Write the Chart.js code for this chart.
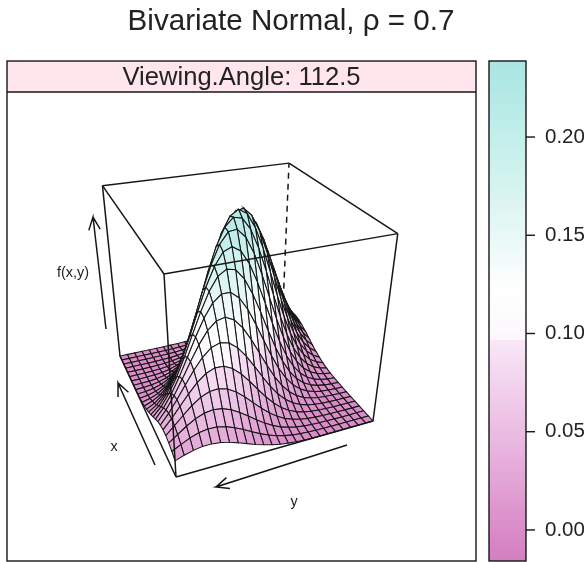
<!DOCTYPE html>
<html>
<head>
<meta charset="utf-8">
<title>Bivariate Normal</title>
<script src="https://cdn.jsdelivr.net/npm/chart.js@4"></script>
<style>
  html, body { margin: 0; padding: 0; background: #fff; }
  #wrap { position: relative; width: 588px; height: 562px; overflow: hidden; }
  canvas { position: absolute; top: 0; display: block; }
  #surface { left: 0; }
  #key { left: 480px; }
</style>
</head>
<body>
<div id="wrap">
  <canvas id="surface" width="588" height="562"></canvas>
  <canvas id="key" width="108" height="562"></canvas>
</div>
<script>
const titleText = 'Bivariate Normal, ρ = 0.7';
const stripText = 'Viewing.Angle: 112.5';
const keyTicks = [0, 0.05, 0.10, 0.15, 0.20];

// ---------- surface heights, in units of 0.0001 ----------
const zGrid = [
  [212,251,281,299,300,286,258,220,178,136,99,68,44,27,16,9,5,2,1,0,0,0,0,0,0],
  [251,308,360,397,414,410,384,340,286,227,171,122,83,53,32,18,10,5,2,1,0,0,0,0,0],
  [281,360,435,498,541,556,541,498,435,360,281,208,146,97,61,36,21,11,6,3,1,0,0,0,0],
  [299,397,498,593,669,714,722,691,626,538,437,336,245,169,111,69,40,22,12,6,3,1,0,0,0],
  [300,414,541,669,783,868,912,907,854,762,644,515,390,280,189,122,74,43,24,12,6,3,1,0,0],
  [286,410,556,714,868,1000,1092,1128,1104,1022,897,746,587,437,308,206,130,78,44,24,12,6,3,1,0],
  [258,384,541,722,912,1092,1237,1327,1350,1299,1184,1022,836,647,474,330,216,135,80,44,24,12,6,2,1],
  [220,340,498,691,907,1128,1327,1482,1565,1565,1482,1327,1128,907,691,498,340,220,135,78,43,22,11,5,2],
  [178,286,435,626,854,1104,1350,1565,1716,1778,1754,1634,1441,1204,952,714,506,340,216,130,74,40,21,10,5],
  [136,227,360,538,762,1022,1299,1565,1778,1923,1965,1903,1744,1514,1244,968,714,498,330,206,122,69,36,18,9],
  [99,171,281,437,644,897,1184,1482,1754,1965,2087,2099,1998,1802,1538,1244,952,691,474,308,189,111,61,32,16],
  [68,122,208,336,515,746,1022,1327,1634,1903,2099,2192,2168,2031,1802,1514,1204,907,647,437,280,169,97,53,27],
  [44,83,146,245,390,587,836,1128,1441,1744,1998,2168,2228,2168,1998,1744,1441,1128,836,587,390,245,146,83,44],
  [27,53,97,169,280,437,647,907,1204,1514,1802,2031,2168,2192,2099,1903,1634,1327,1022,746,515,336,208,122,68],
  [16,32,61,111,189,308,474,691,952,1244,1538,1802,1998,2099,2087,1965,1754,1482,1184,897,644,437,281,171,99],
  [9,18,36,69,122,206,330,498,714,968,1244,1514,1744,1903,1965,1923,1778,1565,1299,1022,762,538,360,227,136],
  [5,10,21,40,74,130,216,340,506,714,952,1204,1441,1634,1754,1778,1716,1565,1350,1104,854,626,435,286,178],
  [2,5,11,22,43,78,135,220,340,498,691,907,1128,1327,1482,1565,1565,1482,1327,1128,907,691,498,340,220],
  [1,2,6,12,24,44,80,135,216,330,474,647,836,1022,1184,1299,1350,1327,1237,1092,912,722,541,384,258],
  [0,1,3,6,12,24,44,78,130,206,308,437,587,746,897,1022,1104,1128,1092,1000,868,714,556,410,286],
  [0,0,1,3,6,12,24,43,74,122,189,280,390,515,644,762,854,907,912,868,783,669,541,414,300],
  [0,0,0,1,3,6,12,22,40,69,111,169,245,336,437,538,626,691,722,714,669,593,498,397,299],
  [0,0,0,0,1,3,6,11,21,36,61,97,146,208,281,360,435,498,541,556,541,498,435,360,281],
  [0,0,0,0,0,1,2,5,10,18,32,53,83,122,171,227,286,340,384,410,414,397,360,308,251],
  [0,0,0,0,0,0,1,2,5,9,16,27,44,68,99,136,178,220,258,286,300,299,281,251,212]
];
const zTop = 2245;

// ---------- colores ----------
const palette = [
  [-0.0158, [212, 126, 192]],
  [0.00, [218, 140, 200]],
  [0.05, [235, 189, 227]],
  [0.095, [248, 230, 246]],
  [0.0965, [252, 247, 252]],
  [0.12, [255, 255, 255]],
  [0.15, [232, 248, 246]],
  [0.20, [194, 238, 234]],
  [0.2387, [169, 229, 225]]
];

function colorFor(z) {
  for (let i = 1; i < palette.length; i++) {
    if (z <= palette[i][0]) {
      const [z0, c0] = palette[i - 1];
      const [z1, c1] = palette[i];
      const t = Math.max(0, (z - z0) / (z1 - z0));
      const c = c0.map((v, k) => Math.round(v + (c1[k] - v) * t));
      return `rgb(${c[0]},${c[1]},${c[2]})`;
    }
  }
  const last = palette[palette.length - 1][1];
  return `rgb(${last[0]},${last[1]},${last[2]})`;
}

// ---------- perspective of the box ----------
const corner = { o: [176, 477], u: [373, 421], v: [120, 356], w: [164, 274] };
const weight = { u: 1.12, v: 1.28, w: 0.83 };

function project(u, v, w) {
  const d = 1 + (weight.u - 1) * u + (weight.v - 1) * v + (weight.w - 1) * w;
  const at = k => (corner.o[k]
    + u * (weight.u * corner.u[k] - corner.o[k])
    + v * (weight.v * corner.v[k] - corner.o[k])
    + w * (weight.w * corner.w[k] - corner.o[k])) / d;
  return { x: at(0), y: at(1) };
}

const ink = '#161616';

function edge(a, b, dash) {
  return {
    data: [project(...a), project(...b)],
    showLine: true,
    borderColor: ink,
    borderWidth: 1.5,
    borderDash: dash || [],
    pointRadius: 0,
    fill: false
  };
}

// ---------- arrows and their labels ----------
const arrowTails = [[155, 465], [347, 445], [106, 329]];
const arrowHeads = [[118, 383], [216, 487], [93, 217]];
const arrowLabels = ['x', 'y', 'f(x,y)'];
const arrowLabelSpots = [[114, 447], [294, 502], [73, 273]];

function arrow(tail, head) {
  const ang = Math.atan2(tail[1] - head[1], tail[0] - head[0]);
  const wing = s => ({
    x: head[0] + 14 * Math.cos(ang + s * 0.42),
    y: head[1] + 14 * Math.sin(ang + s * 0.42)
  });
  const h = { x: head[0], y: head[1] };
  return {
    data: [{ x: tail[0], y: tail[1] }, h, wing(1), h, wing(-1)],
    showLine: true,
    borderColor: ink,
    borderWidth: 1.5,
    pointRadius: 0,
    fill: false
  };
}

// the first dataset is painted last, so go from the near corner to the far one
const datasets = [];

datasets.push(edge([0, 0, 1], [1, 0, 1]));
datasets.push(edge([0, 0, 1], [0, 1, 1]));
datasets.push(edge([0, 0, 0], [0, 0, 1]));
datasets.push(edge([1, 0, 0], [1, 0, 1]));
datasets.push(edge([0, 0, 0], [1, 0, 0]));
datasets.push(edge([0, 0, 0], [0, 1, 0]));
arrowTails.forEach((t, i) => datasets.push(arrow(t, arrowHeads[i])));

const cells = zGrid.length - 1;
for (let i = 0; i < cells; i++) {
  for (let j = 0; j < cells; j++) {
    const corners = [[i, j], [i, j + 1], [i + 1, j + 1], [i + 1, j]];
    const pts = corners.map(([r, c]) => project(c / cells, r / cells, zGrid[r][c] / zTop));
    const mean = corners.reduce((s, [r, c]) => s + zGrid[r][c], 0) / 4 / 10000;
    datasets.push({
      data: [...pts, pts[0]],
      showLine: true,
      fill: 'shape',
      backgroundColor: colorFor(mean),
      borderColor: ink,
      borderWidth: 1.05,
      pointRadius: 0
    });
  }
}

datasets.push(edge([0, 1, 0], [0, 1, 1]));
datasets.push(edge([0, 1, 1], [1, 1, 1]));
datasets.push(edge([1, 0, 1], [1, 1, 1]));
datasets.push(edge([1, 1, 0], [1, 1, 1], [6, 5]));

// panel frame, strip and the small labels, placed through the scales
const panel = { left: 7, right: 476, top: 61, stripBottom: 92, bottom: 561 };

const panelPlugin = {
  id: 'panel',
  beforeDatasetsDraw(chart) {
    const { ctx, scales: { x, y } } = chart;
    const l = x.getPixelForValue(panel.left);
    const r = x.getPixelForValue(panel.right);
    const t = y.getPixelForValue(panel.top);
    const s = y.getPixelForValue(panel.stripBottom);
    ctx.save();
    ctx.fillStyle = '#ffe6ec';
    ctx.fillRect(l, t, r - l, s - t);
    ctx.restore();
  },
  afterDraw(chart) {
    const { ctx, scales: { x, y } } = chart;
    const l = x.getPixelForValue(panel.left);
    const r = x.getPixelForValue(panel.right);
    const t = y.getPixelForValue(panel.top);
    const s = y.getPixelForValue(panel.stripBottom);
    const b = y.getPixelForValue(panel.bottom);
    ctx.save();
    ctx.strokeStyle = ink;
    ctx.lineWidth = 1.4;
    ctx.strokeRect(l, t, r - l, b - t);
    ctx.beginPath();
    ctx.moveTo(l, s);
    ctx.lineTo(r, s);
    ctx.stroke();
    ctx.fillStyle = '#222';
    ctx.textAlign = 'center';
    ctx.font = '25.6px "Liberation Sans"';
    ctx.textBaseline = 'alphabetic';
    ctx.fillText(stripText, (l + r) / 2, y.getPixelForValue(84.5));
    ctx.font = '14.4px "Liberation Sans"';
    ctx.textBaseline = 'middle';
    arrowLabels.forEach((txt, i) => {
      const [px, py] = arrowLabelSpots[i];
      ctx.fillText(txt, x.getPixelForValue(px), y.getPixelForValue(py));
    });
    ctx.restore();
  }
};

new Chart(document.getElementById('surface'), {
  type: 'scatter',
  data: { datasets },
  plugins: [panelPlugin],
  options: {
    responsive: false,
    animation: false,
    events: [],
    layout: { padding: { left: 0, right: 6, top: 0, bottom: 0 } },
    plugins: {
      legend: { display: false },
      tooltip: { enabled: false },
      title: {
        display: true,
        text: titleText,
        color: '#222',
        font: { family: '"Liberation Sans"', size: 29.6, weight: 'normal', lineHeight: 1.2 },
        padding: { top: 4, bottom: 52.5 }
      }
    },
    scales: {
      x: { type: 'linear', display: false, min: 0, max: 582 },
      y: { type: 'linear', display: false, reverse: true, min: 92, max: 562 }
    }
  }
});

// ---------- colour key ----------
const keyMin = -0.0158;
const keyMax = 0.2387;
const keyBands = 100;
const keySets = [];
for (let i = 0; i < keyBands; i++) {
  const lo = keyMin + (keyMax - keyMin) * i / keyBands;
  const hi = keyMin + (keyMax - keyMin) * (i + 1) / keyBands;
  keySets.push({
    data: [[lo, Math.min(keyMax, hi + 0.0004)]],
    backgroundColor: colorFor((lo + hi) / 2),
    barPercentage: 1,
    categoryPercentage: 1,
    grouped: false
  });
}

const keyFrame = {
  id: 'keyFrame',
  afterDraw(chart) {
    const { ctx, chartArea: a, scales: { y } } = chart;
    ctx.save();
    ctx.strokeStyle = ink;
    ctx.lineWidth = 1.4;
    ctx.strokeRect(a.left, a.top, a.right - a.left, a.bottom - a.top);
    keyTicks.forEach(v => {
      const py = y.getPixelForValue(v);
      ctx.beginPath();
      ctx.moveTo(a.right, py);
      ctx.lineTo(a.right + 9, py);
      ctx.stroke();
    });
    ctx.restore();
  }
};

new Chart(document.getElementById('key'), {
  type: 'bar',
  data: { labels: ['key'], datasets: keySets },
  plugins: [keyFrame],
  options: {
    responsive: false,
    animation: false,
    events: [],
    layout: { padding: { left: 9, right: 0, top: 61, bottom: 1 } },
    plugins: { legend: { display: false }, tooltip: { enabled: false } },
    scales: {
      x: { display: false },
      y: {
        position: 'right',
        min: keyMin,
        max: keyMax,
        afterBuildTicks: s => { s.ticks = keyTicks.map(value => ({ value })); },
        afterFit: s => { s.width = 62; s.paddingTop = 0; s.paddingBottom = 0; },
        border: { display: false },
        grid: { drawOnChartArea: false, drawTicks: false },
        ticks: {
          padding: 19,
          color: '#222',
          autoSkip: false,
          font: { family: '"Liberation Sans"', size: 20.5 },
          callback: v => v.toFixed(2)
        }
      }
    }
  }
});
</script>
</body>
</html>
